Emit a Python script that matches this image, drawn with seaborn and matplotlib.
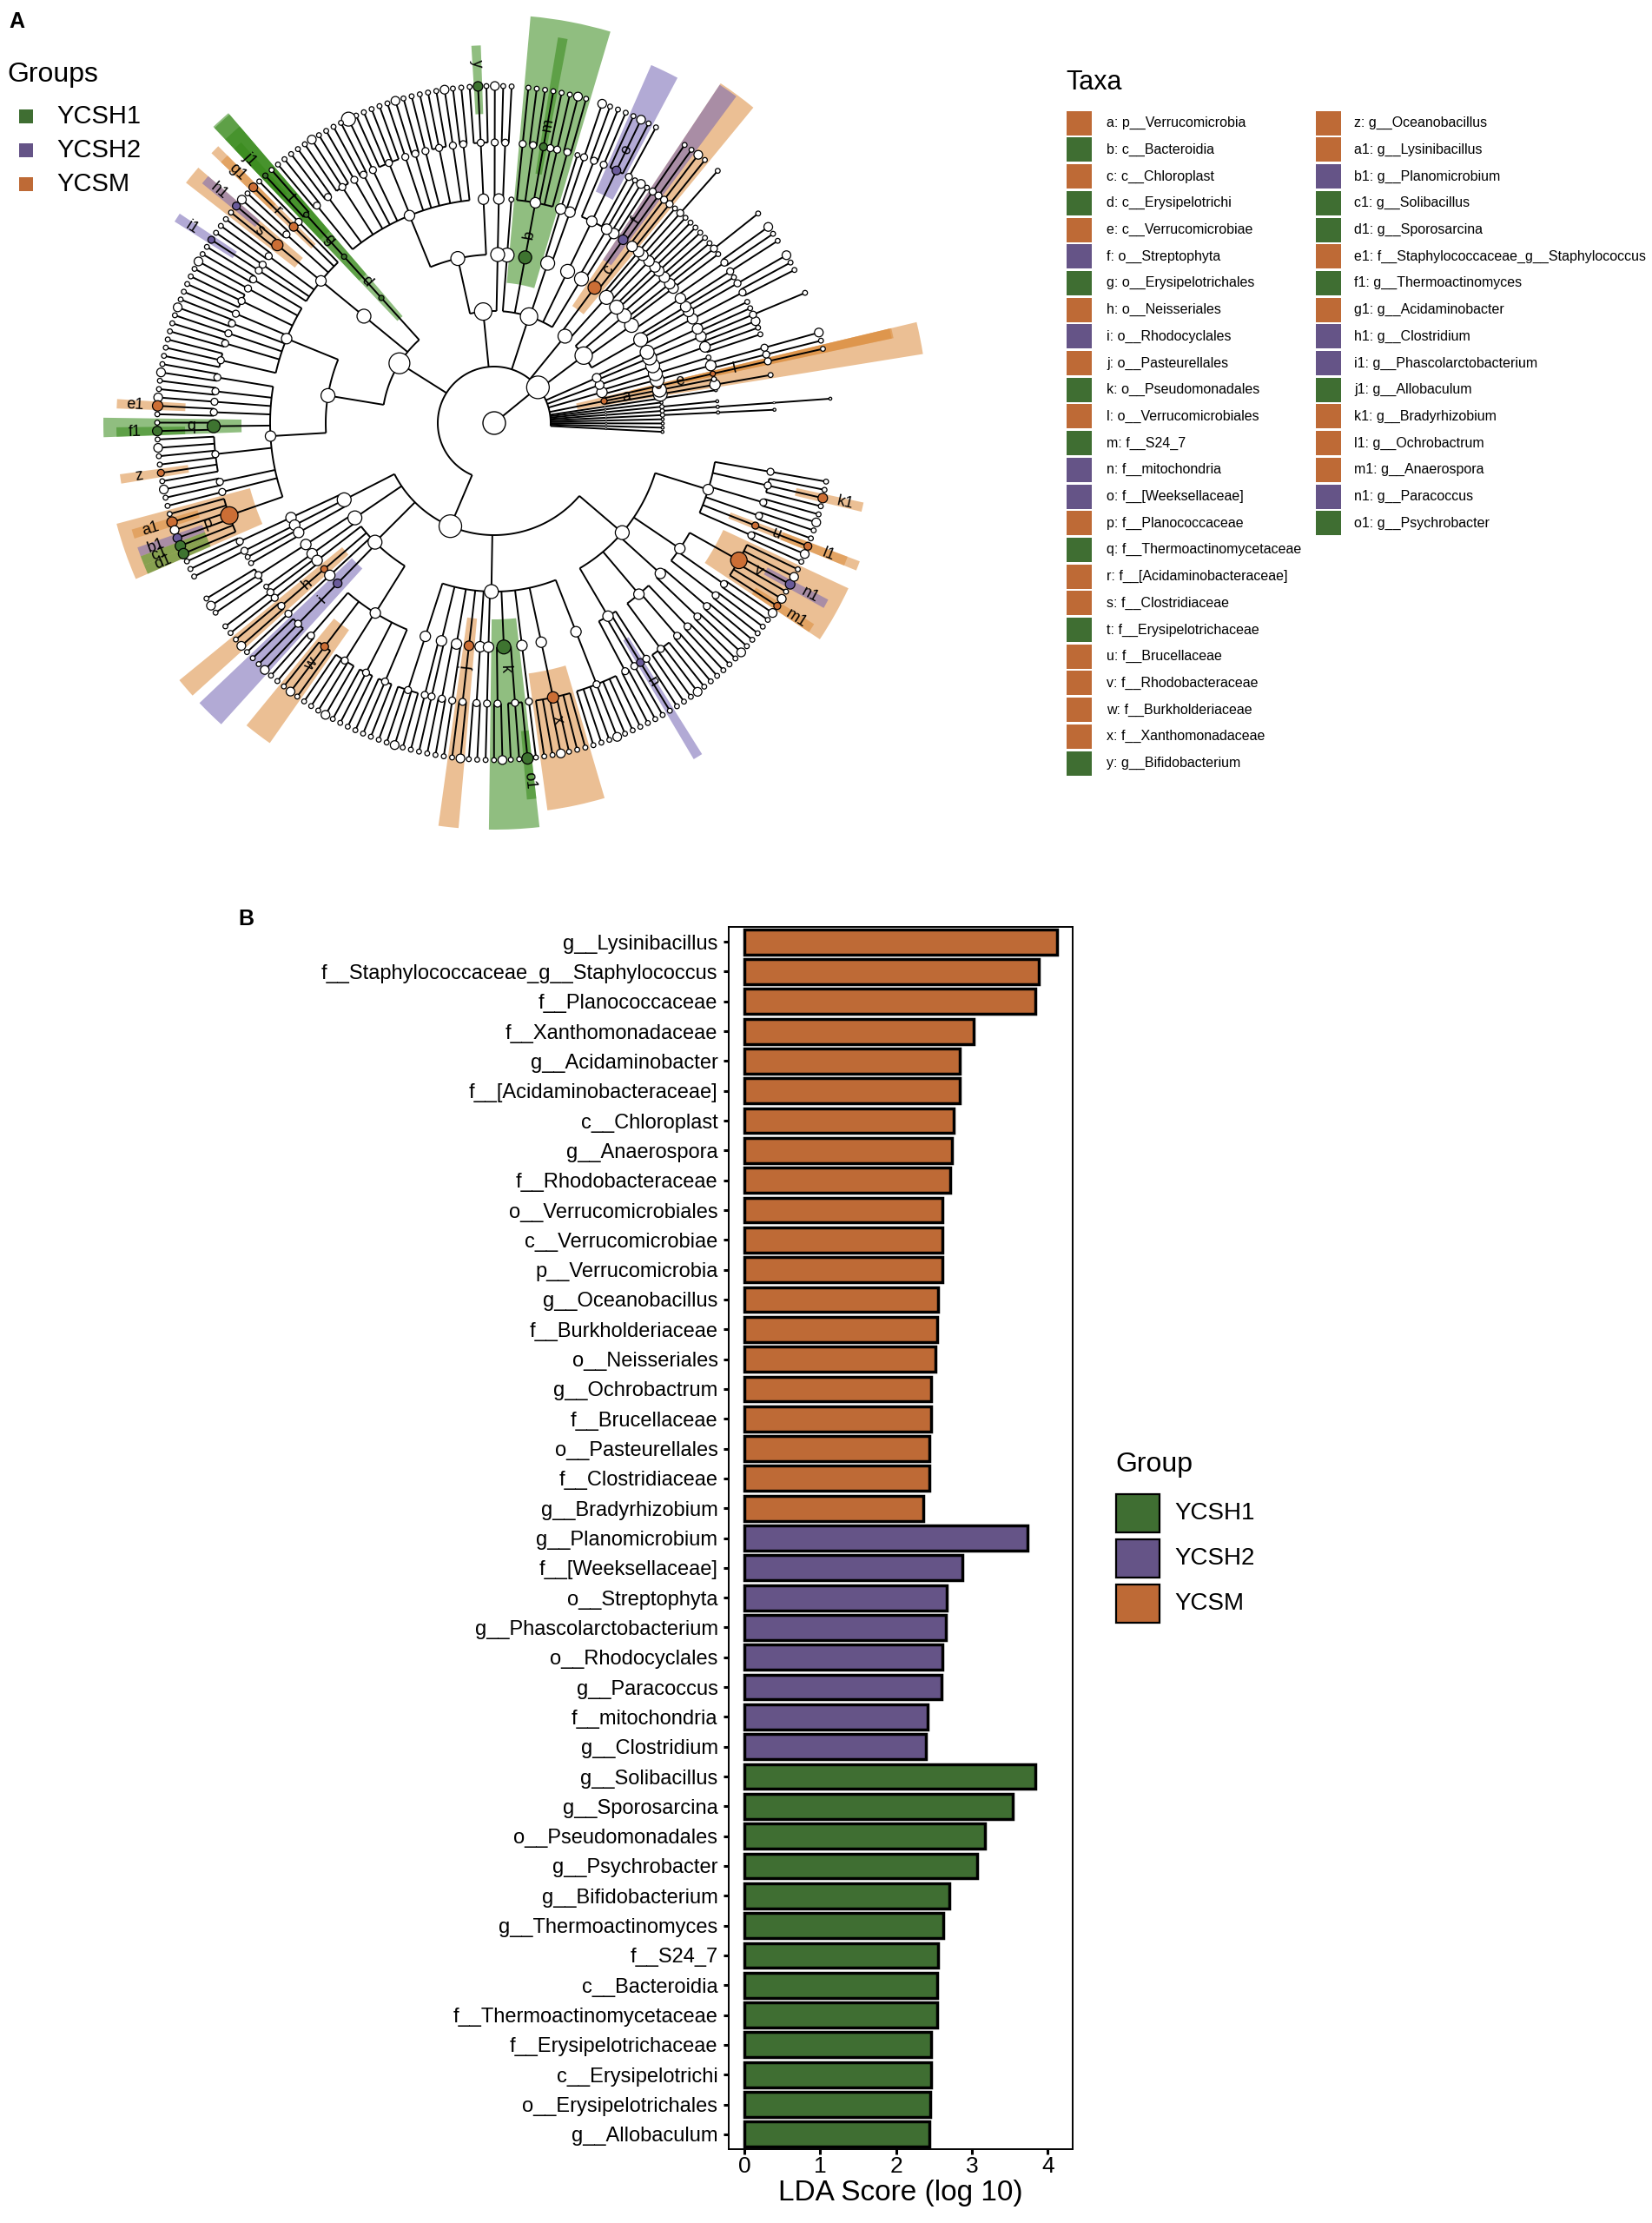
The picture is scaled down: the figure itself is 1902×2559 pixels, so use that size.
import numpy as np
import pandas as pd
import matplotlib
matplotlib.use("Agg")
import matplotlib.pyplot as plt
from matplotlib.patches import Wedge, Circle, Rectangle
from matplotlib.collections import LineCollection
import seaborn as sns

# ---------------- panel B data (top to bottom) ----------------
BAR_TAXA = [
    "g__Lysinibacillus", "f__Staphylococcaceae_g__Staphylococcus", "f__Planococcaceae",
    "f__Xanthomonadaceae", "g__Acidaminobacter", "f__[Acidaminobacteraceae]", "c__Chloroplast",
    "g__Anaerospora", "f__Rhodobacteraceae", "o__Verrucomicrobiales", "c__Verrucomicrobiae",
    "p__Verrucomicrobia", "g__Oceanobacillus", "f__Burkholderiaceae", "o__Neisseriales",
    "g__Ochrobactrum", "f__Brucellaceae", "o__Pasteurellales", "f__Clostridiaceae",
    "g__Bradyrhizobium",
    "g__Planomicrobium", "f__[Weeksellaceae]", "o__Streptophyta", "g__Phascolarctobacterium",
    "o__Rhodocyclales", "g__Paracoccus", "f__mitochondria", "g__Clostridium",
    "g__Solibacillus", "g__Sporosarcina", "o__Pseudomonadales", "g__Psychrobacter",
    "g__Bifidobacterium", "g__Thermoactinomyces", "f__S24_7", "c__Bacteroidia",
    "f__Thermoactinomycetaceae", "f__Erysipelotrichaceae", "c__Erysipelotrichi",
    "o__Erysipelotrichales", "g__Allobaculum",
]
BAR_LDA = [
    4.12, 3.88, 3.84, 3.02, 2.84, 2.84, 2.76, 2.74, 2.71, 2.61, 2.61, 2.61, 2.56, 2.54,
    2.52, 2.46, 2.46, 2.44, 2.44, 2.36,
    3.73, 2.87, 2.67, 2.66, 2.61, 2.60, 2.42, 2.39,
    3.84, 3.54, 3.17, 3.07, 2.70, 2.62, 2.56, 2.54, 2.54, 2.46, 2.46, 2.45, 2.44,
]
BAR_GROUP = ["YCSM"] * 20 + ["YCSH2"] * 8 + ["YCSH1"] * 13

GROUPS = ["YCSH1", "YCSH2", "YCSM"]
GROUP_COLORS = {"YCSH1": "#3F6E32", "YCSH2": "#655487", "YCSM": "#BE6A36"}
NODE_COLORS = {"YCSH1": "#3E7430", "YCSH2": "#6A5B9A", "YCSM": "#CC6E35"}
HILIGHT_COLORS = {"YCSH1": "#358918", "YCSH2": "#7364B4", "YCSM": "#DC8C3C"}

# ---------------- panel A: biomarker legend ----------------
TAXA_KEYS = ["a", "b", "c", "d", "e", "f", "g", "h", "i", "j", "k", "l", "m", "n", "o",
             "p", "q", "r", "s", "t", "u", "v", "w", "x", "y", "z", "a1", "b1", "c1",
             "d1", "e1", "f1", "g1", "h1", "i1", "j1", "k1", "l1", "m1", "n1", "o1"]
TAXA_NAMES = [
    "p__Verrucomicrobia", "c__Bacteroidia", "c__Chloroplast", "c__Erysipelotrichi",
    "c__Verrucomicrobiae", "o__Streptophyta", "o__Erysipelotrichales", "o__Neisseriales",
    "o__Rhodocyclales", "o__Pasteurellales", "o__Pseudomonadales", "o__Verrucomicrobiales",
    "f__S24_7", "f__mitochondria", "f__[Weeksellaceae]", "f__Planococcaceae",
    "f__Thermoactinomycetaceae", "f__[Acidaminobacteraceae]", "f__Clostridiaceae",
    "f__Erysipelotrichaceae", "f__Brucellaceae", "f__Rhodobacteraceae", "f__Burkholderiaceae",
    "f__Xanthomonadaceae", "g__Bifidobacterium", "g__Oceanobacillus", "g__Lysinibacillus",
    "g__Planomicrobium", "g__Solibacillus", "g__Sporosarcina",
    "f__Staphylococcaceae_g__Staphylococcus", "g__Thermoactinomyces", "g__Acidaminobacter",
    "g__Clostridium", "g__Phascolarctobacterium", "g__Allobaculum", "g__Bradyrhizobium",
    "g__Ochrobactrum", "g__Anaerospora", "g__Paracoccus", "g__Psychrobacter",
]
TAXA_GROUP = [
    "YCSM", "YCSH1", "YCSM", "YCSH1", "YCSM", "YCSH2", "YCSH1", "YCSM", "YCSH2", "YCSM",
    "YCSH1", "YCSM", "YCSH1", "YCSH2", "YCSH2", "YCSM", "YCSH1", "YCSM", "YCSM", "YCSH1",
    "YCSM", "YCSM", "YCSM", "YCSM", "YCSH1", "YCSM", "YCSM", "YCSH2", "YCSH1", "YCSH1",
    "YCSM", "YCSH1", "YCSM", "YCSH2", "YCSH2", "YCSH1", "YCSM", "YCSM", "YCSM", "YCSH2",
    "YCSH1",
]
# marker radius (px) of each biomarker node
TAXA_NODE_R = [3.5, 7.5, 7.5, 3, 3, 5.5, 3, 4, 5, 5.5, 8, 3, 4.5, 4.5, 5, 10, 7.5, 5, 6.5, 3,
               4, 9.5, 4.5, 6.5, 5.5, 4, 6, 5, 6, 6, 6, 5.5, 5, 4.5, 4, 3, 5.5, 4.5, 4,
               5.5, 6.5]

# ---------------- cladogram topology ----------------
# one string per phylum, children listed counter-clockwise;
# "." small leaf, "*" / "@" larger leaf circle, letters = biomarker labels
FAN_PHYLA = ["(.)", "(.)", "(.)", "(.)", "(((.)))", "((((.))))", "((.))", "(.)", "((.))"]
VERRUCO = "(((.)),(.),(((.))l)e)a"
SMALL_PHYLA = [
    "((((.),(*))),(.))",
    "(((.,.,*)))",
    "((((.))),((.,.)))",
    "((((.,.)),((*)),(.)),(((.),(.,*)),(.)),(((.)),(.,.)),((.),(.)))",
]
CYANO = "(((.,.),((.)),(.)),(((.),(*)),((.),(.))f)c)"
BACTEROIDETES = ("(((.,*),(.)),(((.),(.,*,.)o,(.))),(((.,.),(*)),(.)),"
                 "(((.,*),(.),(.),(.)m,(.,.),(.)))b,(.))")
ACTINO = ("((((.,.),(*))),(((.,y,.)),((.,.),(*),(.,.,.),(.),(.,*),(.),(.,.,.,.),(@),"
          "(.,.),(.),(.,*,.),(.,.),(.,.))))")
FIRMICUTES = ("((((.,j1)t)g)d,(((.),(g1)r,(.,*),(h1,.)s,(.,.),(.),(i1))),"
              "(((.,.),(*),(.,.,.),(.),(.,*),(.),(.,.),(.,.,.)),"
              "((.,*),(.,.),(*),(e1,.),(.,f1)q,(.,*,.,.,z,.),(*,.),(.),(.,a1,*,b1,c1,d1)p)))")
PROTEO_DELTA = "(((.,.)),((.)),(.,.))"
PROTEO_EPSILON = "(((.,*,.)),(.))"
PROTEO_BETA = "(((.),(.)),((.,*))h,((.)),((.,.,*))i,((.,.),(.,*,.)w,(.,.,.,*),(.,.,.),(.,.,.)))"
PROTEO_GAMMA = ("(((.,.,*,.)),((.),(.)),((.,.),(.)),((.,*))j,((.,.)),((.)),((.,*),(.,.,o1))k,"
                "((.)),((.,.,*,.,.,.)x),((.,.,.,*,.,.,.)))")
PROTEO_ALPHA = ("(((.,.),(.),(.)n,(.)),((.,.,*,.),(.,.),(.,.)),((.,*),(.,.)),"
                "((.,.),(.,*),(m1,*,.,n1,*,.)v),((.,*),(l1)u,(.,.),(*,.),(.,k1,.),(.)))")
PROTEO = "(" + ",".join([PROTEO_DELTA, PROTEO_EPSILON, PROTEO_BETA, PROTEO_GAMMA, PROTEO_ALPHA]) + ")"

PHYLA = FAN_PHYLA + [VERRUCO] + SMALL_PHYLA + [CYANO, BACTEROIDETES, ACTINO, FIRMICUTES, PROTEO]
PHYLUM_NODE_R = [1] * 9 + [3.5, 6, 5, 5, 10, 8, 10, 10, 12, 13]
PHYLUM_SCALE = [0.3] * 9 + [1] * 10

CX, CY = 569, 487                       # tree centre in pixels
LEVEL_R = [65, 129, 194, 258, 323, 388]  # kingdom .. genus
OUTER_R = {1: 500, 2: 470, 3: 468, 4: 450, 5: 435}
LEAF_START, LEAF_SPAN = -3.0, 353.0


def parse_clade(text):
    pos = 0

    def read():
        nonlocal pos
        kids = []
        if text[pos] == "(":
            pos += 1
            while True:
                kids.append(read())
                ch = text[pos]
                pos += 1
                if ch == ")":
                    break
        tag = ""
        while pos < len(text) and text[pos] not in ",)":
            tag += text[pos]
            pos += 1
        return {"kids": kids, "tag": tag}

    return read()


def count_leaves(nd):
    return 1 if not nd["kids"] else sum(count_leaves(k) for k in nd["kids"])


phyla = [parse_clade(s) for s in PHYLA]
kingdom = {"kids": phyla, "tag": ""}
n_leaves = count_leaves(kingdom)
step = LEAF_SPAN / (n_leaves - 1)
counter = [0]
nodes = []


def place(nd, depth, scale, prad):
    nd["depth"], nd["r"], nd["scale"], nd["prad"] = depth, LEVEL_R[depth], scale, prad
    if nd["kids"]:
        for k in nd["kids"]:
            place(k, depth + 1, scale, prad)
        nd["ang"] = np.mean([k["ang"] for k in nd["kids"]])
        nd["lo"] = min(k["lo"] for k in nd["kids"])
        nd["hi"] = max(k["hi"] for k in nd["kids"])
    else:
        nd["ang"] = LEAF_START + counter[0] * step
        counter[0] += 1
        nd["lo"] = nd["hi"] = nd["ang"]
    nodes.append(nd)


for ph, pr, sc in zip(phyla, PHYLUM_NODE_R, PHYLUM_SCALE):
    place(ph, 1, sc, pr)
kingdom["depth"], kingdom["r"] = 0, LEVEL_R[0]
kingdom["ang"] = np.mean([p["ang"] for p in phyla])
kingdom["lo"], kingdom["hi"] = phyla[0]["lo"], phyla[-1]["hi"]
nodes.append(kingdom)

key_index = {k: i for i, k in enumerate(TAXA_KEYS)}


def pxy(r, ang):
    t = np.radians(ang)
    return CX + r * np.cos(t), CY - r * np.sin(t)


def node_radius(nd):
    tag = nd["tag"]
    if tag in key_index:
        return TAXA_NODE_R[key_index[tag]]
    if nd is kingdom:
        return 13
    if tag == "*":
        return 5
    if tag == "@":
        return 8
    if not nd["kids"]:
        return 2.8 * max(nd["scale"], 0.6)
    if nd["depth"] == 1:
        return nd["prad"]
    return {2: 8, 3: 6, 4: 4}[nd["depth"]] * nd["scale"]


# ---------------- figure ----------------
sns.set_theme(style="white")
plt.rcParams["font.family"] = ["Liberation Sans", "DejaVu Sans"]
plt.rcParams["text.color"] = "black"
plt.rcParams["axes.labelcolor"] = "black"
plt.rcParams["xtick.color"] = "black"
plt.rcParams["ytick.color"] = "black"

fig = plt.figure(figsize=(19.02, 25.59), dpi=100)
ax = fig.add_axes([0, 0, 1, 1])
ax.set_xlim(0, 1902)
ax.set_ylim(2559, 0)
ax.axis("off")
ax.patch.set_visible(False)

# highlight wedges
marked = [nd for nd in nodes if nd["tag"] in key_index]
for nd in sorted(marked, key=lambda n: n["depth"]):
    grp = TAXA_GROUP[key_index[nd["tag"]]]
    lo, hi = nd["lo"] - step / 2, nd["hi"] + step / 2
    r_out, r_in = OUTER_R[nd["depth"]], nd["r"] - 32
    ax.add_patch(Wedge((CX, CY), r_out, -hi, -lo, width=r_out - r_in,
                       facecolor=HILIGHT_COLORS[grp], alpha=0.55, lw=0, zorder=1))

# branches
segs = [np.array([[CX, CY], pxy(kingdom["r"], kingdom["ang"])])]
for nd in nodes:
    if not nd["kids"]:
        continue
    angs = [k["ang"] for k in nd["kids"]]
    a0, a1 = min(angs), max(angs)
    t = np.linspace(a0, a1, max(2, int((a1 - a0) * 3) + 2))
    segs.append(np.column_stack(pxy(nd["r"], t)))
    for k in nd["kids"]:
        segs.append(np.array([pxy(nd["r"], k["ang"]), pxy(k["r"], k["ang"])]))
ax.add_collection(LineCollection(segs, colors="black", linewidths=1.4, zorder=2))

# node circles
ax.add_patch(Circle((CX, CY), 13, facecolor="white", edgecolor="black", lw=1.0, zorder=3))
for nd in sorted(nodes, key=lambda n: -n["depth"]):
    rad = node_radius(nd)
    fc = "white"
    if nd["tag"] in key_index:
        fc = NODE_COLORS[TAXA_GROUP[key_index[nd["tag"]]]]
    x, y = pxy(nd["r"], nd["ang"])
    ax.add_patch(Circle((x, y), rad, facecolor=fc, edgecolor="black",
                        lw=0.9 if rad > 1.5 else 0.5, zorder=3))

# biomarker letters
for nd in marked:
    a = ((nd["ang"] + 180) % 360) - 180
    rot = a - 180 if a > 90 else (a + 180 if a < -90 else a)
    x, y = pxy(nd["r"] + 26, nd["ang"])
    ax.text(x, y, nd["tag"], rotation=rot, rotation_mode="anchor", ha="center",
            va="center", fontsize=13, zorder=5)

# panel letters
ax.text(10, 25, "A", fontsize=18, fontweight="bold", va="center", ha="left")
ax.text(274, 1058, "B", fontsize=18, fontweight="bold", va="center", ha="left")

# Groups legend (panel A)
ax.text(8, 86, "Groups", fontsize=23, va="center", ha="left")
for i, g in enumerate(GROUPS):
    yy = 134 + i * 39
    ax.add_patch(Rectangle((22, yy - 8), 16, 16, facecolor=GROUP_COLORS[g], lw=0))
    ax.text(65, yy, g, fontsize=21, va="center", ha="left")

# Taxa legend
ax.text(1227, 95, "Taxa", fontsize=22, va="center", ha="left")
for k, (key, name, grp) in enumerate(zip(TAXA_KEYS, TAXA_NAMES, TAXA_GROUP)):
    col, row = (0, k) if k < 25 else (1, k - 25)
    yy = 141.7 + row * 30.7
    xs, xt = (1228, 1274) if col == 0 else (1515, 1559)
    ax.add_patch(Rectangle((xs, yy - 14), 29, 28, facecolor=GROUP_COLORS[grp], lw=0))
    ax.text(xt, yy, f"{key}: {name}", fontsize=11.5, va="center", ha="left")

# Group legend (panel B)
ax.text(1284, 1686, "Group", fontsize=23, va="center", ha="left")
for i, g in enumerate(GROUPS):
    yy = 1742 + i * 52
    ax.add_patch(Rectangle((1285, yy - 22), 50, 44, facecolor=GROUP_COLORS[g],
                           edgecolor="black", lw=1.6))
    ax.text(1352, yy, g, fontsize=20, va="center", ha="left")

# ---------------- panel B bar chart ----------------
df = pd.DataFrame({"taxon": BAR_TAXA, "lda": BAR_LDA, "group": BAR_GROUP})
axb = fig.add_axes([839 / 1902, 1 - 2474 / 2559, 396 / 1902, (2474 - 1067) / 2559])
sns.barplot(data=df, x="lda", y="taxon", hue="group", order=BAR_TAXA, hue_order=GROUPS,
            palette=GROUP_COLORS, saturation=1, dodge=False, width=0.84, edgecolor="black",
            linewidth=2.5, legend=False, ax=axb)
axb.set_xlim(-0.206, 4.33)
axb.set_ylim(40.5, -0.5)
axb.set_xticks([0, 1, 2, 3, 4])
axb.set_xlabel("LDA Score (log 10)", fontsize=24, labelpad=2)
axb.set_ylabel("")
axb.tick_params(axis="both", direction="out", length=4, width=2.2, color="black",
                bottom=True, left=True)
axb.tick_params(axis="y", labelsize=17, pad=5)
axb.tick_params(axis="x", labelsize=19, pad=2)
for sp in axb.spines.values():
    sp.set_visible(True)
    sp.set_color("black")
    sp.set_linewidth(1.4)

fig.savefig("out.png", dpi=100)
